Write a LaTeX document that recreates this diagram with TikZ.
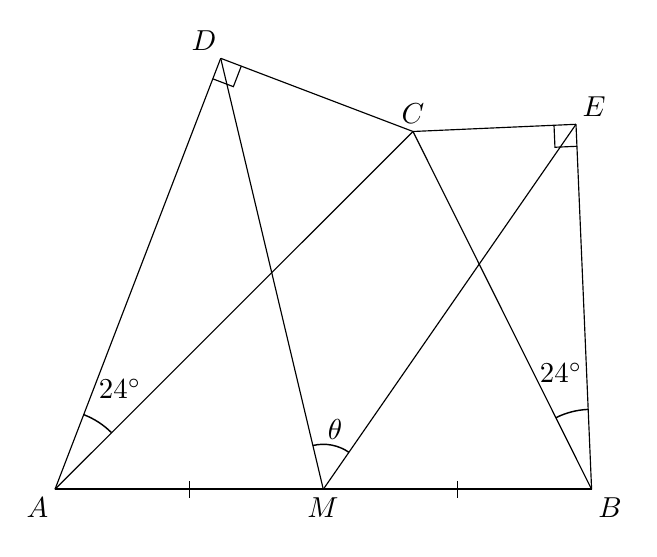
\documentclass[tikz,border=0pt]{standalone}
\usetikzlibrary{calc,angles}
\begin{document}
\begin{tikzpicture}[x=0.01217cm,y=-0.01217cm,
  seg/.style={line width=0.4pt},
  base/.style={line width=0.8pt},
  lbl/.style={inner sep=0pt},
  arcmark/.style={draw,line width=0.5pt}]
\useasboundingbox (0,0) rectangle (657,557);
\coordinate (A) at (55,489.3);
\coordinate (M) at (323.3,489.3);
\coordinate (B) at (591.6,489.3);
\coordinate (C) at (413,131.5);
\coordinate (D) at (220.7,58.3);
\coordinate (E) at (576,124.3);
% segments
\draw[seg] (A) -- (D);
\draw[seg] (D) -- (C);
\draw[seg] (A) -- (C);
\draw[seg] (D) -- (M);
\draw[seg] (C) -- (E);
\draw[seg] (M) -- (E);
\draw[seg] (C) -- (B);
\draw[seg] (E) -- (B);
\draw[base] (A) -- (B);
% ticks
\coordinate (t1) at ($(A)!0.5!(M)$);
\coordinate (t2) at ($(M)!0.5!(B)$);
\draw[seg] ($(t1)+(0,-8.5)$) -- ($(t1)+(0,8.5)$);
\draw[seg] ($(t2)+(0,-8.5)$) -- ($(t2)+(0,8.5)$);
% right angles
\draw[seg] ($(D)!0.268cm!(A)$) -- ($(D)!0.268cm!(A) + (D)!0.268cm!(C) - (D)$) -- ($(D)!0.268cm!(C)$);
\draw[seg] ($(E)!0.268cm!(C)$) -- ($(E)!0.268cm!(C) + (E)!0.268cm!(B) - (E)$) -- ($(E)!0.268cm!(B)$);
% angle arcs
\pic[arcmark, angle radius=0.974cm] {angle = C--A--D};
\pic[arcmark, angle radius=0.974cm] {angle = E--B--C};
\pic[arcmark, angle radius=0.548cm] {angle = E--M--D};
% labels
\node[lbl] (lA) at (37.5,508) {$A$};
\node[lbl] (lM) at (323,507.5) {$M$};
\node[lbl] (lB) at (610,508) {$B$};
\node[lbl] (lC) at (413,114) {$C$};
\node[lbl] (lD) at (204,41) {$D$};
\node[lbl] (lE) at (594,107) {$E$};
\node[lbl] (a1) at (120,389) {$24^\circ$};
\node[lbl] (a2) at (561,373) {$24^\circ$};
\node[lbl] (th) at (335,429) {$\theta$};
\end{tikzpicture}
\end{document}
